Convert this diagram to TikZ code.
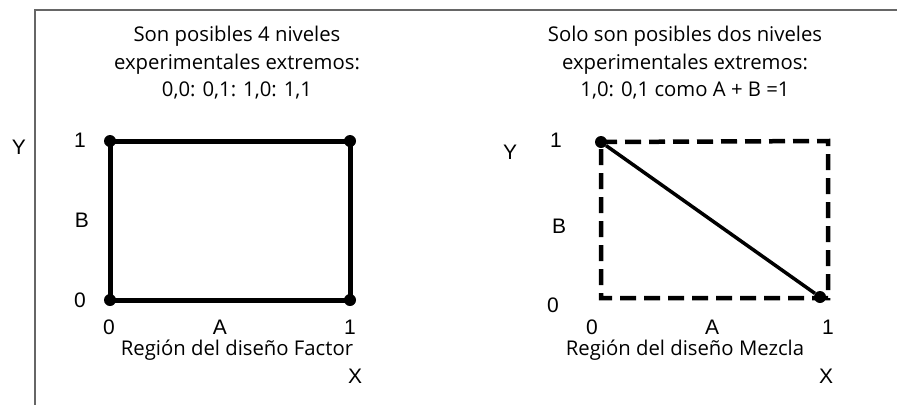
\documentclass[tikz,border=0pt]{standalone}
\usepackage{fontspec}
\usepackage{tikz}
\usetikzlibrary{positioning}
\newfontfamily\titlefont{Open Sans}
\newfontfamily\axisfont{Liberation Sans}

\begin{document}
\begin{tikzpicture}[
    x=1pt, y=-1pt,
    frame/.style={draw=black!60, line width=1.6pt},
    corner/.style={circle, fill=black, inner sep=0pt, minimum size=12pt},
    factorside/.style={line width=5pt},
    mixside/.style={line width=4.5pt, dash pattern=on 16pt off 8pt},
    mixline/.style={line width=3.5pt},
    caption/.style={font=\titlefont\fontsize{20.3}{27.5}\selectfont, align=center},
    tick/.style={font=\axisfont\fontsize{21}{21}\selectfont}
]
\useasboundingbox (0,0) rectangle (897,405);

% Frame
\draw[frame] (897,10) -| (35,405);

% Factor design
\node[caption] (ftitle) at (237,63) {Son posibles 4 niveles\\experimentales extremos:\\0,0: 0,1: 1,0: 1,1};

\node[corner] (f00) at (110,300) {};
\node[corner] (f01) at (110,141) {};
\node[corner] (f11) at (350,141) {};
\node[corner] (f10) at (350,300) {};

\draw[factorside] (f00.center) -- (f01.center) -- (f11.center) -- (f10.center) -- cycle;

\node[tick] (fy) at (19,147) {Y};
\node[tick] (fone) at (80,140) {1};
\node[tick] (fb) at (82,220) {B};
\node[tick] (fzero) at (80,300) {0};
\node[tick] (fx0) at (109,327) {0};
\node[tick] (fa) at (220,327) {A};
\node[tick] (fx1) at (350,327) {1};
\node[caption] (fname) at (237,350) {Región del diseño Factor};
\node[tick] (fx) at (355,376) {X};

% Mixture design
\node[caption] (mtitle) at (685,63) {Solo son posibles dos niveles\\experimentales extremos:\\1,0: 0,1 como A + B =1};

\node[corner] (m01) at (601,142) {};
\node[corner] (m10) at (820,297) {};
\coordinate (m00) at (601,298);
\coordinate (m11) at (828,141);
\coordinate (m10c) at (828,298);

\draw[mixside] (m01.center) -- (m11) -- (m10c) -- (m00) -- cycle;
\draw[mixline] (m01) -- (m10);

\node[tick] (my) at (510,152) {Y};
\node[tick] (mone) at (556,140) {1};
\node[tick] (mb) at (559,226) {B};
\node[tick] (mzero) at (553,305) {0};
\node[tick] (mx0) at (592,327) {0};
\node[tick] (ma) at (712,327) {A};
\node[tick] (mx1) at (828,327) {1};
\node[caption] (mname) at (685,350) {Región del diseño Mezcla};
\node[tick] (mx) at (826,376) {X};

\end{tikzpicture}
\end{document}
